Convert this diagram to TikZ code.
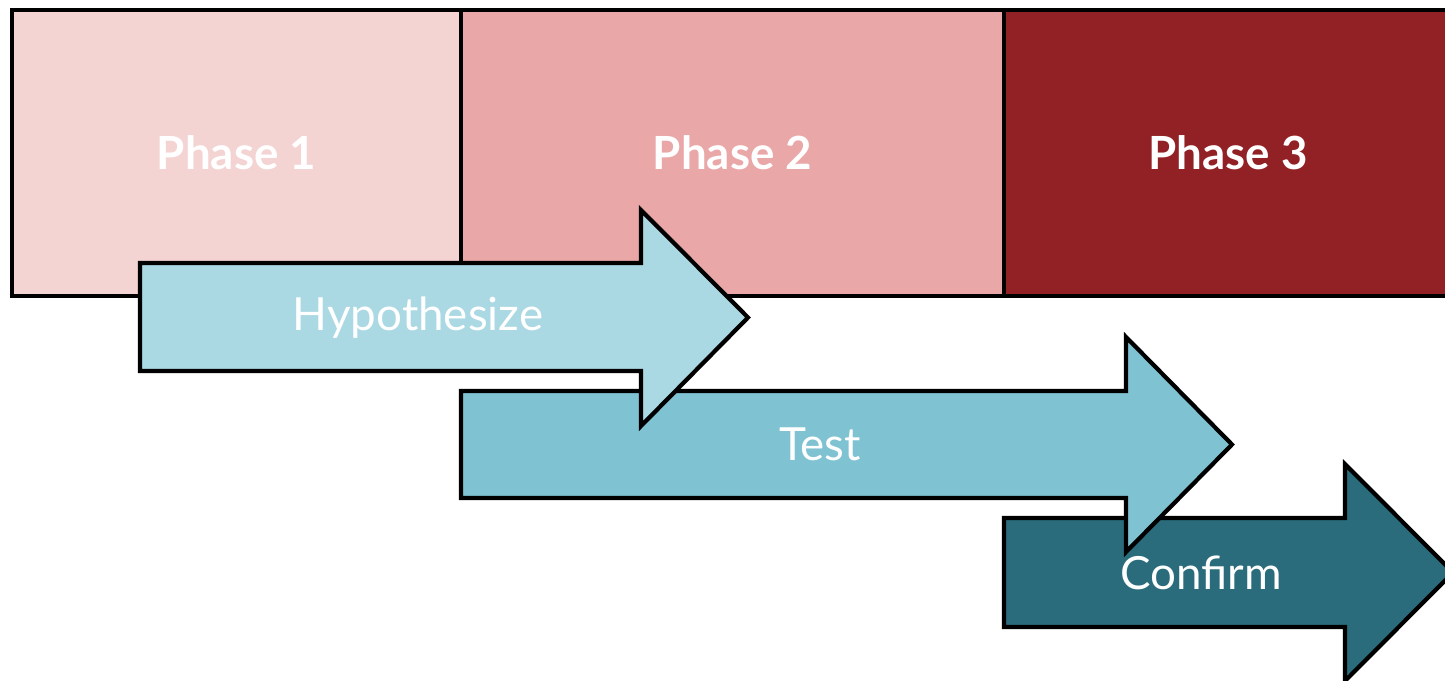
\documentclass[tikz,border=0pt]{standalone}
\usepackage{fontspec}
\setmainfont{Lato}
\usetikzlibrary{positioning}

\definecolor{phaseone}{HTML}{F4D3D3}
\definecolor{phasetwo}{HTML}{EAA7A8}
\definecolor{phasethree}{HTML}{912124}
\definecolor{hypofill}{HTML}{AAD8E3}
\definecolor{testfill}{HTML}{7FC3D3}
\definecolor{confirmfill}{HTML}{2A6C7B}

\tikzset{
  phasebox/.style={draw=black, line width=1.2pt, anchor=north west, minimum height=2.86cm,
    inner sep=0pt, outer sep=0pt, text=white, font=\fontsize{13}{15}\selectfont\bfseries},
  arrowshape/.style={draw=black, line width=1.2pt, line join=miter},
  arrowtext/.style={text=white, font=\fontsize{13}{15}\selectfont, inner sep=1pt}
}

\begin{document}
\begin{tikzpicture}

\useasboundingbox (0,0) rectangle (14.45,-6.81);
\begin{scope}
\clip (0,0) rectangle (14.45,-6.81);

% phases
\node[phasebox, fill=phaseone, minimum width=4.49cm] (ph1) at (0.12,-0.10) {Phase 1};
\node[phasebox, fill=phasetwo, minimum width=5.43cm] (ph2) at (ph1.north east) {Phase 2};
\node[phasebox, fill=phasethree, minimum width=4.48cm] (ph3) at (ph2.north east) {Phase 3};

% confirm
\draw[arrowshape, fill=confirmfill] (10.04,-5.18) -- (13.45,-5.18) -- (13.45,-4.64) -- (14.53,-5.725)
  -- (13.45,-6.81) -- (13.45,-6.27) -- (10.04,-6.27) -- cycle;
\node[arrowtext] (conf) at (12.01,-5.725) {Confirm};

% test
\draw[arrowshape, fill=testfill] (4.61,-3.91) -- (11.26,-3.91) -- (11.26,-3.37) -- (12.32,-4.445)
  -- (11.26,-5.52) -- (11.26,-4.98) -- (4.61,-4.98) -- cycle;
\node[arrowtext] (test) at (8.20,-4.445) {Test};

% hypothesize
\draw[arrowshape, fill=hypofill] (1.40,-2.63) -- (6.41,-2.63) -- (6.41,-2.10) -- (7.48,-3.175)
  -- (6.41,-4.26) -- (6.41,-3.71) -- (1.40,-3.71) -- cycle;
\node[arrowtext] (hyp) at (4.18,-3.175) {Hypothesize};

\end{scope}

\end{tikzpicture}
\end{document}
